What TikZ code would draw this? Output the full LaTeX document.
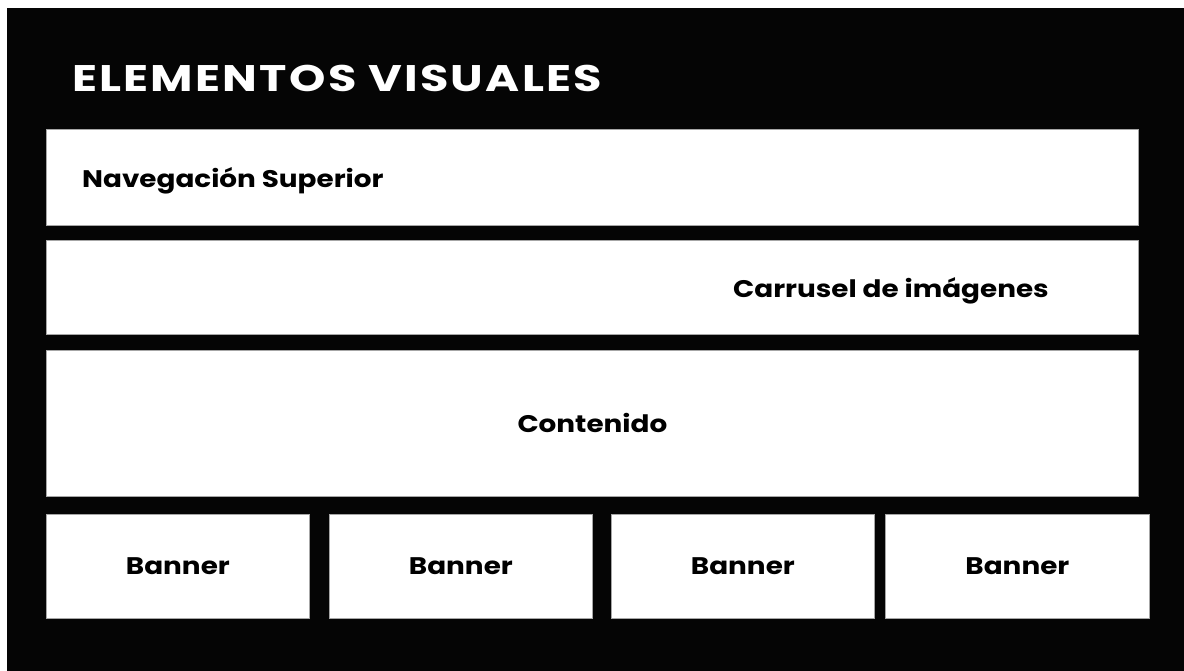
\documentclass[tikz,border=0pt]{standalone}
\usepackage{fontspec}
\setmainfont{Poppins}[FakeStretch=1.16]
\newfontfamily\titulofont{Poppins}[FakeStretch=1.25, LetterSpace=6]
\definecolor{fondo}{HTML}{050505}
\tikzset{
  panel/.style={draw=gray!70, line width=0.8pt, fill=white, inner sep=0pt, anchor=north west},
  rotulo/.style={font=\bfseries\fontsize{24}{28}\selectfont, text=black, inner sep=0pt},
}
\begin{document}
\begin{tikzpicture}[x=1pt,y=-1pt]
\fill[white] (0,0) rectangle (1184,671);
\fill[fondo] (7,8) rectangle (1184,671);

\node[font=\titulofont\bfseries\fontsize{37}{44}\selectfont, text=white, inner sep=0pt, anchor=base west] (titulo) at (72,92) {ELEMENTOS VISUALES};

\node[panel, minimum width=1092pt, minimum height=96pt] (nav) at (46,129) {};
\node[rotulo, anchor=base west] (navtexto) at (82,188) {Navegación Superior};

\node[panel, minimum width=1092pt, minimum height=94pt] (carrusel) at (46,240) {};
\node[rotulo, anchor=base west] (carruseltexto) at (733,298) {Carrusel de imágenes};

\node[panel, minimum width=1092pt, minimum height=146pt] (contenido) at (46,350) {};
\node[rotulo] (contenidotexto) at (contenido.center) {Contenido};

% banners
\foreach \i/\xa/\xb in {1/46/309, 2/329/592, 3/611/874, 4/885/1149} {
  \node[panel, minimum width={(\xb-\xa)*1pt}, minimum height=104pt] (banner\i) at (\xa,514) {};
  \node[rotulo] (bannertexto\i) at (banner\i.center) {Banner};
}
\end{tikzpicture}
\end{document}
